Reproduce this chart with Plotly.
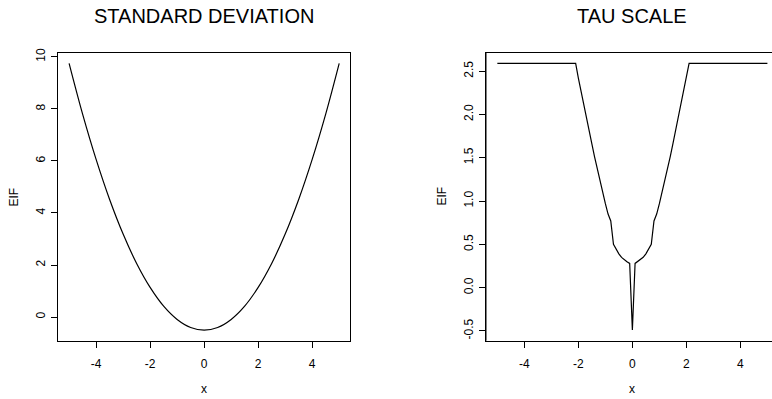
import plotly.graph_objects as go

# Standard deviation EIF
sd_x = [-5, -4.5, -4, -3.5, -3, -2.5, -2, -1.5, -1, -0.5, 0,
        0.5, 1, 1.5, 2, 2.5, 3, 3.5, 4, 4.5, 5]
sd_eif = [9.75, 7.80, 6.06, 4.52, 3.19, 2.06, 1.14, 0.42, -0.09, -0.40, -0.50,
          -0.40, -0.09, 0.42, 1.14, 2.06, 3.19, 4.52, 6.06, 7.80, 9.75]

# Tau scale EIF, right panel
tau_x = [-5, -2.1, -2.0, -1.9, -1.8, -1.7, -1.6, -1.5, -1.4, -1.3, -1.2, -1.1,
         -1.0, -0.9, -0.8, -0.7, -0.6, -0.5, -0.4, -0.3, -0.2, -0.1, 0,
         0.1, 0.2, 0.3, 0.4, 0.5, 0.6, 0.7, 0.8, 0.9, 1.0, 1.1, 1.2, 1.3,
         1.4, 1.5, 1.6, 1.7, 1.8, 1.9, 2.0, 2.1, 5]
tau_eif = [2.59, 2.59, 2.42, 2.26, 2.11, 1.96, 1.81, 1.66, 1.51, 1.37, 1.23, 1.10,
           0.97, 0.85, 0.77, 0.50, 0.44, 0.39, 0.35, 0.32, 0.30, 0.28, -0.49,
           0.28, 0.30, 0.32, 0.35, 0.39, 0.44, 0.50, 0.77, 0.85, 0.97, 1.10, 1.23, 1.37,
           1.51, 1.66, 1.81, 1.96, 2.11, 2.26, 2.42, 2.59, 2.59]

# tick labels (plain hyphen minus, as in the original)
x_ticks = [-4, -2, 0, 2, 4]
x_labels = ["-4", "-2", "0", "2", "4"]
sd_ticks = [0, 2, 4, 6, 8, 10]
tau_ticks = [-0.5, 0, 0.5, 1, 1.5, 2, 2.5]
tau_labels = ["-0.5", "0.0", "0.5", "1.0", "1.5", "2.0", "2.5"]

W, H = 772, 399
FONT = "Liberation Sans, Arial, sans-serif"

fig = go.Figure()
fig.add_trace(go.Scatter(x=sd_x, y=sd_eif, mode="lines", xaxis="x", yaxis="y",
                         line=dict(color="black", width=1.2, shape="spline"),
                         showlegend=False))
fig.add_trace(go.Scatter(x=tau_x, y=tau_eif, mode="lines", xaxis="x2", yaxis="y2",
                         line=dict(color="black", width=1.2), showlegend=False))

ydom = [59 / H, 1 - 48.3 / H]
axis_common = dict(showgrid=False, zeroline=False, showline=True, linecolor="black",
                   linewidth=1, ticks="outside", ticklen=6, tickcolor="black",
                   tickfont=dict(size=12, color="black", family=FONT))

fig.update_layout(
    width=W, height=H,
    margin=dict(l=0, r=0, t=0, b=0),
    paper_bgcolor="white", plot_bgcolor="white",
    font=dict(family=FONT, color="black"),
    xaxis=dict(domain=[58.3 / W, 350 / W], range=[-5.4, 5.4], mirror=True,
               tickvals=x_ticks, ticktext=x_labels, ticklabelstandoff=6,
               anchor="y", **axis_common),
    yaxis=dict(domain=ydom, range=[-0.91, 10.16], mirror=True, tickangle=-90,
               tickvals=sd_ticks, ticklabelstandoff=2, anchor="x", **axis_common),
    xaxis2=dict(domain=[486 / W, 1], range=[-5.42, 5.17], mirror=True,
                tickvals=x_ticks, ticktext=x_labels, ticklabelstandoff=6,
                anchor="y2", **axis_common),
    yaxis2=dict(domain=ydom, range=[-0.613, 2.713], mirror=False, tickangle=-90,
                tickvals=tau_ticks, ticktext=tau_labels,
                ticklabelstandoff=1, anchor="x2", **axis_common),
)

# left border of the right panel
fig.add_shape(type="line", xref="paper", yref="paper", x0=486 / W, x1=486 / W,
              y0=ydom[0], y1=ydom[1], line=dict(color="black", width=1))

ann = []
for cx, title in [(204, "STANDARD DEVIATION"), (632, "TAU SCALE")]:
    ann.append(dict(x=cx / W, y=1 - 11.5 / H, xref="paper", yref="paper", text=title,
                    showarrow=False, xanchor="center", yanchor="middle",
                    font=dict(size=20, color="black", family=FONT)))
    ann.append(dict(x=cx / W, y=1 - 389 / H, xref="paper", yref="paper", text="x",
                    showarrow=False, xanchor="center", yanchor="middle",
                    font=dict(size=12, color="black", family=FONT)))
for ex in [14, 442]:
    ann.append(dict(x=ex / W, y=1 - 194 / H, xref="paper", yref="paper", text="EIF",
                    showarrow=False, xanchor="center", yanchor="middle", textangle=-90,
                    font=dict(size=12, color="black", family=FONT)))
fig.update_layout(annotations=ann)

fig.write_html("out.html", config={"displayModeBar": False},
               post_script="document.body.style.margin='0';")
